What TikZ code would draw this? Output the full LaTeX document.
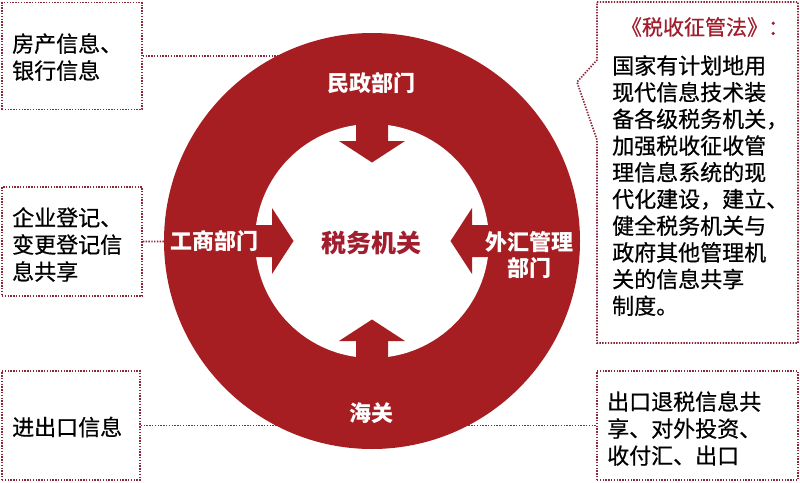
\documentclass[tikz,border=0pt]{standalone}
\usepackage{fontspec}
\setmainfont{Noto Sans CJK SC}
\newfontfamily\cjk{Noto Sans CJK SC}
\newfontfamily\cjkmed[FakeBold=0.6]{Noto Sans CJK SC}
\definecolor{ringred}{RGB}{166,30,34}
\definecolor{dotred}{RGB}{140,40,60}
\definecolor{titlered}{RGB}{160,30,45}
\begin{document}
\begin{tikzpicture}[x=1pt,y=-1pt,
  dotline/.style={draw=dotred,line width=1.7pt,dash pattern=on 1.4pt off 1.4pt},
  infotext/.style={font=\cjkmed\fontsize{22}{27}\selectfont,text=black,align=left,anchor=west,inner sep=0pt},
  ringtext/.style={font=\cjk\bfseries\fontsize{22}{26}\selectfont,text=white,align=center,inner sep=0pt},
  blockarrow/.pic={\fill[ringred] (-16,-121) -- (-16,-100) -- (-33,-100) -- (0,-78.5) -- (33,-100) -- (16,-100) -- (16,-121) -- cycle;}]
\useasboundingbox (0,0) rectangle (800,482);
\fill[white] (0,0) rectangle (800,482);
\coordinate (c) at (372,241);
% info boxes
\node[dotline,minimum width=140pt,minimum height=107pt,inner sep=0pt] (b1) at (72,56) {};
\node[dotline,minimum width=140pt,minimum height=109pt,inner sep=0pt] (b2) at (72,241.5) {};
\node[dotline,minimum width=138pt,minimum height=109pt,inner sep=0pt] (b3) at (71,425.5) {};
\node[dotline,minimum width=201pt,minimum height=109pt,inner sep=0pt] (b5) at (697.5,425.5) {};
\draw[dotline] (597,2) -- (798,2) -- (798,343) -- (597,343) -- (597,140) -- (577,82) -- (597,60) -- cycle;
\coordinate (b4) at (577,82);
% connectors (behind the ring)
\draw[dotline] (b1.east) -- (c |- b1.east);
\draw[dotline] (b2.east) -- (c);
\draw[dotline] (b3.east) -- (b5.west);
% ring
\fill[ringred] (c) circle (208pt);
\fill[white] (c) circle (117pt);
\pic at (c) {blockarrow};
\pic[rotate=90] at (c) {blockarrow};
\pic[rotate=180] at (c) {blockarrow};
\pic[rotate=270] at (c) {blockarrow};
% texts
\node[font=\cjk\bfseries\fontsize{25}{30}\selectfont,text=titlered,inner sep=0pt] (tax) at (371,243) {税务机关};
\node[ringtext] (minzheng) at (371,83) {民政部门};
\node[ringtext] (gongshang) at (214,241) {工商部门};
\node[ringtext] (waihui) at (529,255) {外汇管理\\部门};
\node[ringtext] (haiguan) at (371,413) {海关};
\node[infotext] (t1) at (12,57) {房产信息、\\银行信息};
\node[infotext] (t2) at (12,244.5) {企业登记、\\变更登记信\\息共享};
\node[infotext] (t3) at (12,427) {进出口信息};
\node[font=\cjkmed\fontsize{21}{26}\selectfont,text=titlered,inner sep=0pt] (law) at (705,27) {《税收征管法》：};
\node[font=\cjkmed\fontsize{22}{26.7}\selectfont,text=black,align=left,anchor=north west,inner sep=0pt] (lawtext) at (612,55) {国家有计划地用\\现代信息技术装\\备各级税务机关，\\加强税收征收管\\理信息系统的现\\代化建设，建立、\\健全税务机关与\\政府其他管理机\\关的信息共享\\制度。};
\node[infotext] (t5) at (607,428.5) {出口退税信息共\\享、对外投资、\\收付汇、出口};
\end{tikzpicture}
\end{document}
